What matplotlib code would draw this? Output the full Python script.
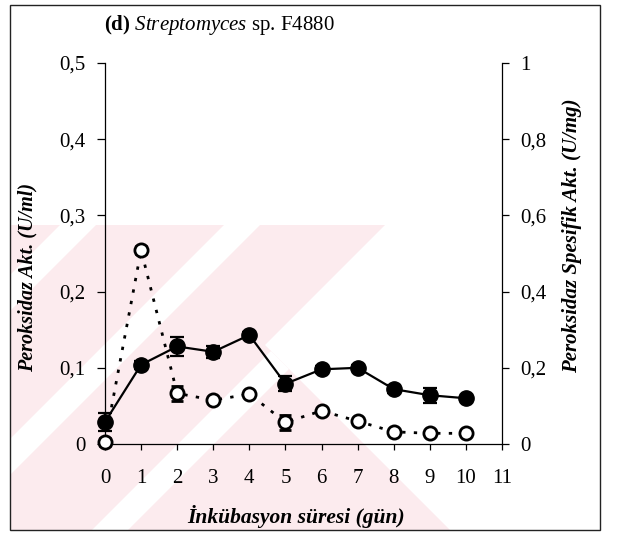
import matplotlib
matplotlib.use("Agg")
import matplotlib.pyplot as plt
from matplotlib.patches import Polygon, Rectangle

plt.rcParams["font.family"] = ["Liberation Serif", "DejaVu Serif"]
plt.rcParams["mathtext.fontset"] = "custom"
plt.rcParams["mathtext.rm"] = "Liberation Serif"
plt.rcParams["mathtext.it"] = "Liberation Serif:italic"
plt.rcParams["mathtext.bf"] = "Liberation Serif:bold"

# --- data ---
days = [0, 1, 2, 3, 4, 5, 6, 7, 8, 9, 10]
activity = [0.029, 0.104, 0.128, 0.121, 0.143, 0.079, 0.098, 0.100, 0.072, 0.064, 0.060]   # U/ml
activity_err = [0.012, 0.005, 0.012, 0.008, 0.004, 0.010, 0.005, 0.004, 0.005, 0.010, 0.003]
specific = [0.006, 0.509, 0.133, 0.115, 0.131, 0.057, 0.087, 0.060, 0.032, 0.028, 0.028]   # U/mg
specific_err = [0.010, 0.010, 0.020, 0.006, 0.006, 0.020, 0.006, 0.006, 0.006, 0.006, 0.006]

x_ticks = list(range(12))
left_ticks = [0, 0.1, 0.2, 0.3, 0.4, 0.5]
left_labels = ["0", "0,1", "0,2", "0,3", "0,4", "0,5"]
right_ticks = [0, 0.2, 0.4, 0.6, 0.8, 1.0]
right_labels = ["0", "0,2", "0,4", "0,6", "0,8", "1"]

W, H = 628, 535
fig = plt.figure(figsize=(W / 100, H / 100), dpi=100)

# background layer in pixel coordinates: faint scanned watermark + outer frame
bg = fig.add_axes([0, 0, 1, 1], zorder=-10)
bg.set_xlim(0, W)
bg.set_ylim(H, 0)
bg.axis("off")
pink = "#fcebee"
region = Polygon([(10, 225), (385, 225), (265, 345), (450, 530), (10, 530)],
                 closed=True, facecolor=pink, edgecolor="none")
bg.add_patch(region)
for c in [303, 467, 640]:
    w = 18
    stripe = Polygon([(c - w, 0), (c + w, 0), (c + w - H, H), (c - w - H, H)],
                     closed=True, facecolor="white", edgecolor="none")
    bg.add_patch(stripe)
    stripe.set_clip_path(region)
bg.add_patch(Rectangle((10, 5), 590, 525, fill=False, edgecolor="#222222", linewidth=1.0))

# main axes
ax = fig.add_axes([105 / W, 1 - 444 / H, 397 / W, 381 / H])
ax.patch.set_alpha(0)
ax2 = ax.twinx()

ax.errorbar(days, activity, yerr=activity_err, color="black", linewidth=1.6,
            marker="o", markersize=11, markerfacecolor="black", markeredgecolor="black",
            ecolor="black", elinewidth=1.4, capsize=5, capthick=1.6, clip_on=False, zorder=3)

ax2.errorbar(days, specific, yerr=specific_err, color="black", linewidth=2.0,
             linestyle=(0, (1.2, 3.0)),
             marker="o", markersize=9.5, markerfacecolor="white", markeredgecolor="black",
             markeredgewidth=2.0, ecolor="black", elinewidth=1.4, capsize=4, capthick=1.6,
             clip_on=False, zorder=3)

ax.set_xlim(0, 11)
ax.set_ylim(0, 0.5)
ax2.set_ylim(0, 1)

ax.set_xticks(x_ticks)
ax.set_xticklabels([str(t) for t in x_ticks])
ax.set_yticks(left_ticks)
ax.set_yticklabels(left_labels)
ax2.set_yticks(right_ticks)
ax2.set_yticklabels(right_labels)

for a in (ax, ax2):
    a.spines["top"].set_visible(False)
    for s in a.spines.values():
        s.set_linewidth(0.9)
ax2.spines["left"].set_visible(False)
ax2.spines["bottom"].set_visible(False)
ax.spines["right"].set_visible(False)

ax.tick_params(axis="x", direction="out", length=4, width=0.9, pad=14, labelsize=15)
ax.tick_params(axis="y", direction="out", length=6, width=0.9, pad=8, labelsize=15)
ax2.tick_params(axis="y", direction="out", length=5, width=0.9, pad=8, labelsize=15)

ax.set_ylabel("Peroksidaz Akt. (U/ml)", fontsize=14.5, fontweight="bold", fontstyle="italic")
ax.yaxis.set_label_coords(-0.169, 0.436)
ax2.set_ylabel("Peroksidaz Spesifik Akt. (U/mg)", fontsize=15, fontweight="bold",
               fontstyle="italic")
ax2.yaxis.set_label_coords(1.152, 0.546)
ax.set_xlabel("İnkübasyon süresi (gün)", fontsize=15.5, fontweight="bold", fontstyle="italic")
ax.xaxis.set_label_coords(0.48, -0.16)

fig.text(219 / W, 1 - 25 / H, r"$\mathbf{(d)}$ $\mathit{Streptomyces}$ sp. F4880",
         ha="center", va="center", fontsize=15)

fig.savefig("out.png", dpi=100)
